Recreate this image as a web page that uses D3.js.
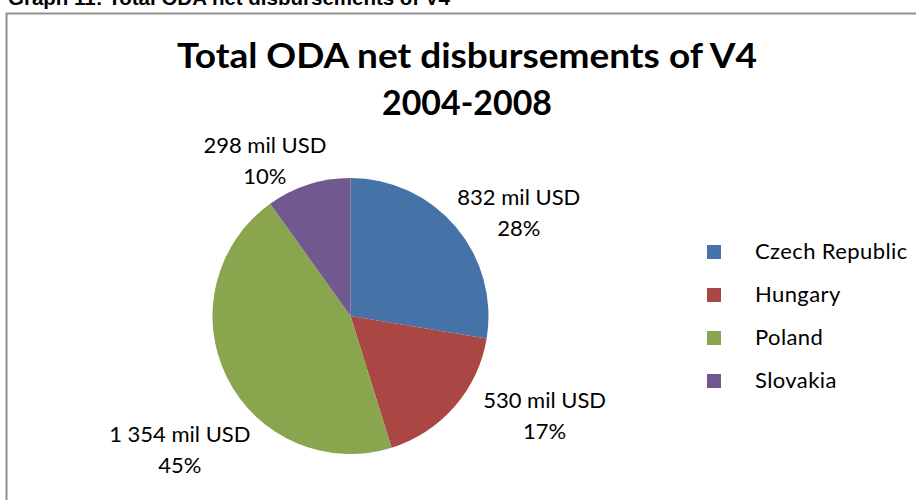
<!DOCTYPE html>
<html>
<head>
<meta charset="utf-8">
<script src="https://cdn.jsdelivr.net/npm/d3@7/dist/d3.min.js"></script>
<style>
  html, body { margin: 0; padding: 0; background: #fff; }
  svg { display: block; }
</style>
</head>
<body>
<svg id="chart" width="916" height="500"></svg>
<script>
// ODA net disbursements of the Visegrad Four, 2004-2008 (mil USD)
const countries = ["Czech Republic", "Hungary", "Poland", "Slovakia"];
const disbursements = [832, 530, 1354, 298];
const amountLabels = ["832 mil USD", "530 mil USD", "1 354 mil USD", "298 mil USD"];
const shareLabels = ["28%", "17%", "45%", "10%"];
const colors = ["#4572A7", "#AA4643", "#89A54E", "#71588F"];

const svg = d3.select("#chart");
const W = 916, H = 500;

// caption above the chart frame
svg.append("text")
  .attr("x", 8).attr("y", 5)
  .attr("font-family", "'Liberation Sans', Arial, sans-serif")
  .attr("font-weight", "bold")
  .attr("font-size", 20.5)
  .attr("fill", "#000")
  .text("Graph 11: Total ODA net disbursements of V4");

// chart frame
svg.append("rect")
  .attr("x", 6.5).attr("y", 13.5)
  .attr("width", W + 20).attr("height", H + 20)
  .attr("fill", "#fff")
  .attr("stroke", "#8f8f8f")
  .attr("stroke-width", 2);

// title
const title = svg.append("text")
  .attr("text-anchor", "middle")
  .attr("font-family", "Lato, 'Open Sans', sans-serif")
  .attr("font-weight", "bold")
  .attr("font-size", 34)
  .attr("fill", "#000");
title.append("tspan").attr("x", 467).attr("y", 68)
  .attr("textLength", 580).attr("lengthAdjust", "spacingAndGlyphs")
  .text("Total ODA net disbursements of V4");
title.append("tspan").attr("x", 467).attr("y", 115)
  .attr("textLength", 170).attr("lengthAdjust", "spacingAndGlyphs")
  .text("2004-2008");

// pie
const cx = 350.5, cy = 316, radius = 138;
const pie = d3.pie().sort(null).value(d => d.value);
const data = countries.map((c, i) => ({
  country: c, value: disbursements[i], amount: amountLabels[i], share: shareLabels[i], color: colors[i]
}));
const arcs = pie(data);
const arc = d3.arc().innerRadius(0).outerRadius(radius);
const rim = d3.arc().innerRadius(radius + 8).outerRadius(radius + 8);

const g = svg.append("g").attr("transform", `translate(${cx},${cy})`);
g.selectAll("path.slice")
  .data(arcs)
  .join("path")
  .attr("class", "slice")
  .attr("d", arc)
  .attr("fill", d => d.data.color);

// data labels sit outside the rim, nudged clear of the pie edge
const labelNudge = [[57, -4], [84, 9], [-40, 74], [-41, -11]];
g.selectAll("text.lbl")
  .data(arcs)
  .join("text")
  .attr("class", "lbl")
  .attr("text-anchor", "middle")
  .attr("font-family", "Lato, 'Open Sans', sans-serif")
  .attr("font-size", 22)
  .attr("fill", "#000")
  .each(function (d, i) {
    const [px, py] = rim.centroid(d);
    const x = px + labelNudge[i][0], y = py + labelNudge[i][1];
    const t = d3.select(this);
    t.append("tspan").attr("x", x).attr("y", y - 13).text(d.data.amount);
    t.append("tspan").attr("x", x).attr("y", y + 18).text(d.data.share);
  });

// legend
const legend = svg.append("g").attr("transform", "translate(707,252)");
const item = legend.selectAll("g")
  .data(data)
  .join("g")
  .attr("transform", (d, i) => `translate(0,${i * 43})`);
item.append("rect")
  .attr("x", 0).attr("y", -7)
  .attr("width", 14).attr("height", 14)
  .attr("fill", d => d.color);
item.append("text")
  .attr("x", 48).attr("y", 7)
  .attr("font-family", "Lato, 'Open Sans', sans-serif")
  .attr("font-size", 22)
  .attr("letter-spacing", 0.4)
  .attr("fill", "#000")
  .text(d => d.country);
</script>
</body>
</html>
